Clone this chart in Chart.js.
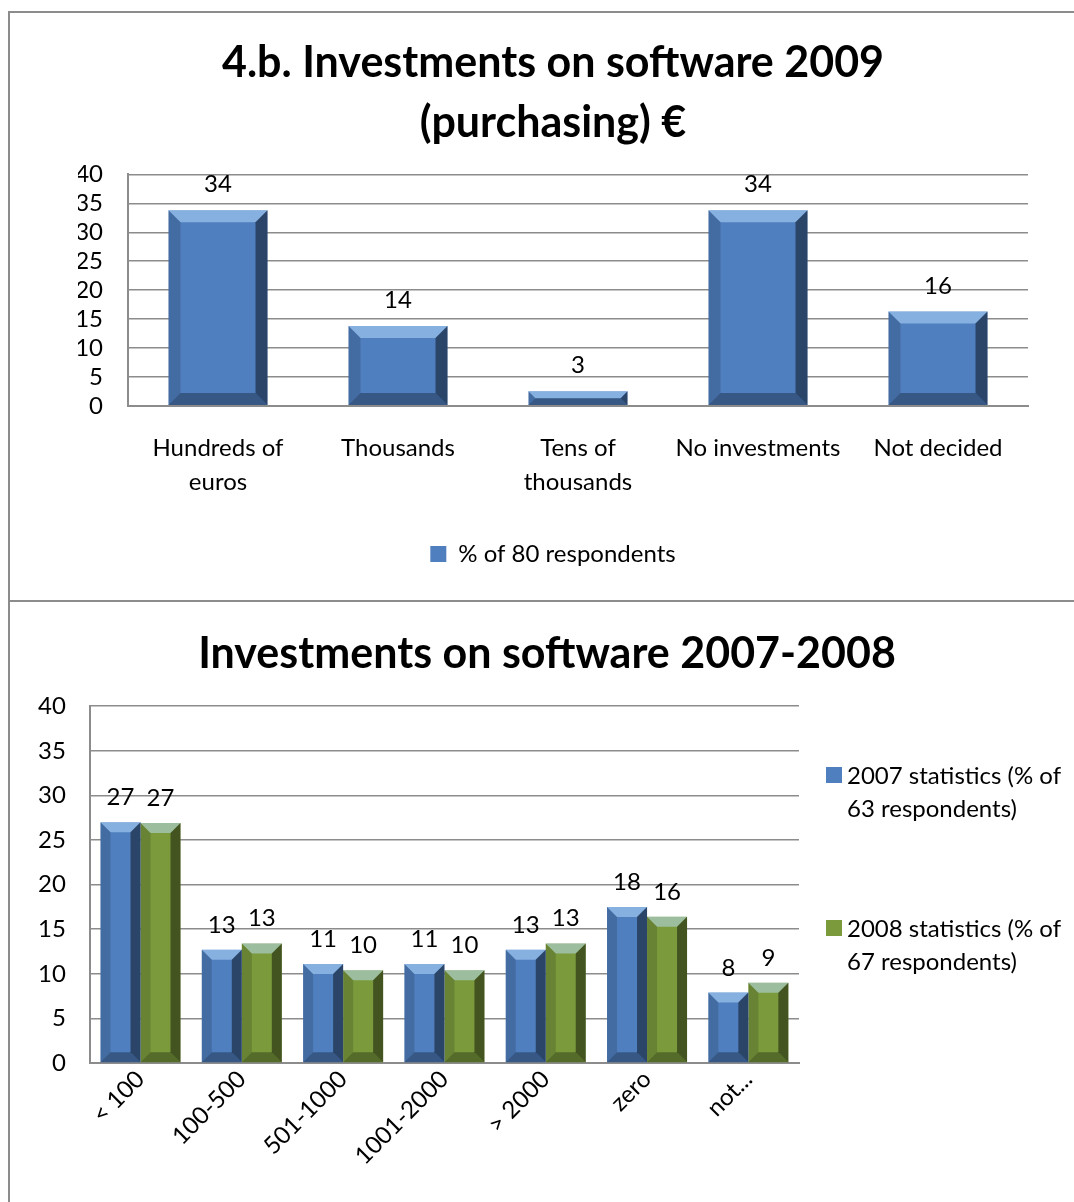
<!DOCTYPE html>
<html>
<head>
<meta charset="utf-8">
<script src="https://cdn.jsdelivr.net/npm/chart.js@4.4.1/dist/chart.umd.min.js"></script>
<style>
  html, body { margin: 0; padding: 0; background: #fff; }
  body { width: 1074px; height: 1202px; position: relative; overflow: hidden; font-family: Lato, "Liberation Sans", sans-serif; }
  .panel { position: absolute; left: 8px; width: 1070px; border-left: 2px solid #8c8c8c; border-top: 2px solid #8c8c8c; }
  #top { top: 11px; height: 588px; }
  #bottom { top: 600px; height: 602px; }
  .panel canvas { display: block; }
  #legend2 { position: absolute; left: 826px; top: 758px; font-size: 24px; line-height: 33px; color: #000; }
  #legend2 .item { position: relative; padding-left: 21px; margin-bottom: 87px; }
  #legend2 .box { position: absolute; left: 0; top: 9px; width: 16px; height: 16px; }
</style>
</head>
<body>
<div class="panel" id="top"><canvas id="chart2009"></canvas></div>
<div class="panel" id="bottom"><canvas id="chart0708"></canvas></div>
<div id="legend2">
  <div class="item"><span class="box" style="background:#4f7fbf"></span>2007 statistics (% of<br>63 respondents)</div>
  <div class="item"><span class="box" style="background:#7a9a3c"></span>2008 statistics (% of<br>67 respondents)</div>
</div>
<script>
// chart 1: 2009 purchasing
const cats2009 = [["Hundreds of", "euros"], "Thousands", ["Tens of", "thousands"], "No investments", "Not decided"];
const values2009 = [33.8, 13.8, 2.5, 33.8, 16.3];
const label2009 = "% of 80 respondents";

// chart 2: 2007-2008
const cats0708 = ["< 100", "100-500", "501-1000", "1001-2000", "> 2000", "zero", "not..."];
const values2007 = [27.0, 12.7, 11.1, 11.1, 12.7, 17.5, 7.9];
const values2008 = [26.9, 13.4, 10.4, 10.4, 13.4, 16.4, 9.0];
const label2007 = "2007 statistics (% of 63 respondents)";
const label2008 = "2008 statistics (% of 67 respondents)";

const yTicks = [0, 5, 10, 15, 20, 25, 30, 35, 40];

const BLUE = "#4f7fbf";
const GREEN = "#7a9a3c";
const GRID = "#8c8c8c";
const FONT = "Lato";

// value labels above bars
const valueLabels = {
  id: "valueLabels",
  afterDatasetsDraw(chart, args, opts) {
    const ctx = chart.ctx;
    ctx.save();
    ctx.font = `${opts.size}px ${FONT}`;
    ctx.fillStyle = "#000";
    ctx.textAlign = "center";
    ctx.textBaseline = "alphabetic";
    chart.data.datasets.forEach((ds, i) => {
      chart.getDatasetMeta(i).data.forEach((bar, j) => {
        ctx.fillText(String(Math.round(ds.data[j])), bar.x, bar.y - opts.gap);
      });
    });
    ctx.restore();
  }
};

// rough imitation of the bevelled bars
const bevel = {
  id: "bevel",
  afterDatasetDraw(chart, args) {
    const ctx = chart.ctx;
    args.meta.data.forEach(bar => {
      const p = bar.getProps(["x", "y", "base", "width"], true);
      const l = p.x - p.width / 2, r = p.x + p.width / 2, t = p.y, b = p.base;
      const s = Math.min(12, p.width / 4, (b - t) / 2);
      const poly = (pts, col) => {
        ctx.beginPath();
        ctx.moveTo(pts[0][0], pts[0][1]);
        pts.slice(1).forEach(q => ctx.lineTo(q[0], q[1]));
        ctx.closePath();
        ctx.fillStyle = col;
        ctx.fill();
      };
      ctx.save();
      poly([[l, t], [r, t], [r - s, t + s], [l + s, t + s]], "rgba(190,225,255,0.5)");
      poly([[l, b], [r, b], [r - s, b - s], [l + s, b - s]], "rgba(0,0,0,0.3)");
      poly([[l, t], [l + s, t + s], [l + s, b - s], [l, b]], "rgba(0,0,0,0.15)");
      poly([[r, t], [r - s, t + s], [r - s, b - s], [r, b]], "rgba(0,0,0,0.45)");
      ctx.restore();
    });
  }
};

function yScale(pad, width) {
  return {
    min: 0,
    max: 40,
    afterBuildTicks: axis => { axis.ticks = yTicks.map(v => ({ value: v })); },
    afterFit: axis => { if (width) axis.width = width; },
    ticks: { color: "#000", font: { family: FONT, size: 24 }, padding: pad, autoSkip: false },
    grid: { color: GRID, lineWidth: 1.5, drawTicks: false },
    border: { color: GRID, width: 2 },
  };
}

new Chart(document.getElementById("chart2009"), {
  type: "bar",
  data: {
    labels: cats2009,
    datasets: [{
      label: label2009,
      data: values2009,
      backgroundColor: BLUE,
      categoryPercentage: 1,
      barPercentage: 0.55,
    }],
  },
  plugins: [valueLabels, bevel],
  options: {
    responsive: true,
    maintainAspectRatio: false,
    animation: false,
    layout: { padding: { left: 68, right: 52, top: 0, bottom: 25 } },
    scales: {
      x: {
        grid: { display: false },
        border: { color: GRID, width: 2 },
        afterFit: axis => { axis.height += 11; },
        ticks: { color: "#000", font: { family: FONT, size: 24, lineHeight: 1.4 }, padding: 18, maxRotation: 0 },
      },
      y: yScale(25, 50),
    },
    plugins: {
      title: {
        display: true,
        text: ["4.b. Investments on software 2009", "(purchasing) €"],
        color: "#000",
        font: { family: FONT, size: 43, weight: "bold", lineHeight: 1.4 },
        padding: { top: 20, bottom: 21 },
      },
      legend: {
        position: "bottom",
        labels: { color: "#000", font: { family: FONT, size: 24 }, boxWidth: 16, boxHeight: 16, padding: 14 },
      },
      tooltip: { enabled: false },
      valueLabels: { size: 24, gap: 18 },
    },
  },
});

new Chart(document.getElementById("chart0708"), {
  type: "bar",
  data: {
    labels: cats0708,
    datasets: [
      { label: label2007, data: values2007, backgroundColor: BLUE, categoryPercentage: 0.79, barPercentage: 1, yAxisID: "y" },
      { label: label2008, data: values2008, backgroundColor: GREEN, categoryPercentage: 0.79, barPercentage: 1, yAxisID: "y" },
    ],
  },
  plugins: [valueLabels, bevel],
  options: {
    responsive: true,
    maintainAspectRatio: false,
    animation: false,
    layout: { padding: { left: 4, right: 0, top: 0, bottom: 0 } },
    scales: {
      x: {
        grid: { display: false },
        border: { color: GRID, width: 2 },
        afterFit: axis => { axis.height = 141; },
        ticks: { color: "#000", font: { family: FONT, size: 24 }, padding: -6, minRotation: 45, maxRotation: 45 },
      },
      y: yScale(24),
      // empty right-hand axis: keeps room for the legend beside the plot
      side: {
        position: "right",
        grid: { display: false },
        border: { display: false },
        ticks: { display: false },
        afterFit: axis => { axis.width = 281; },
      },
    },
    plugins: {
      title: {
        display: true,
        text: "Investments on software 2007-2008",
        color: "#000",
        font: { family: FONT, size: 43, weight: "bold", lineHeight: 1.4 },
        padding: { top: 22, bottom: 22 },
      },
      legend: { display: false },
      tooltip: { enabled: false },
      valueLabels: { size: 24, gap: 17 },
    },
  },
});
</script>
</body>
</html>
